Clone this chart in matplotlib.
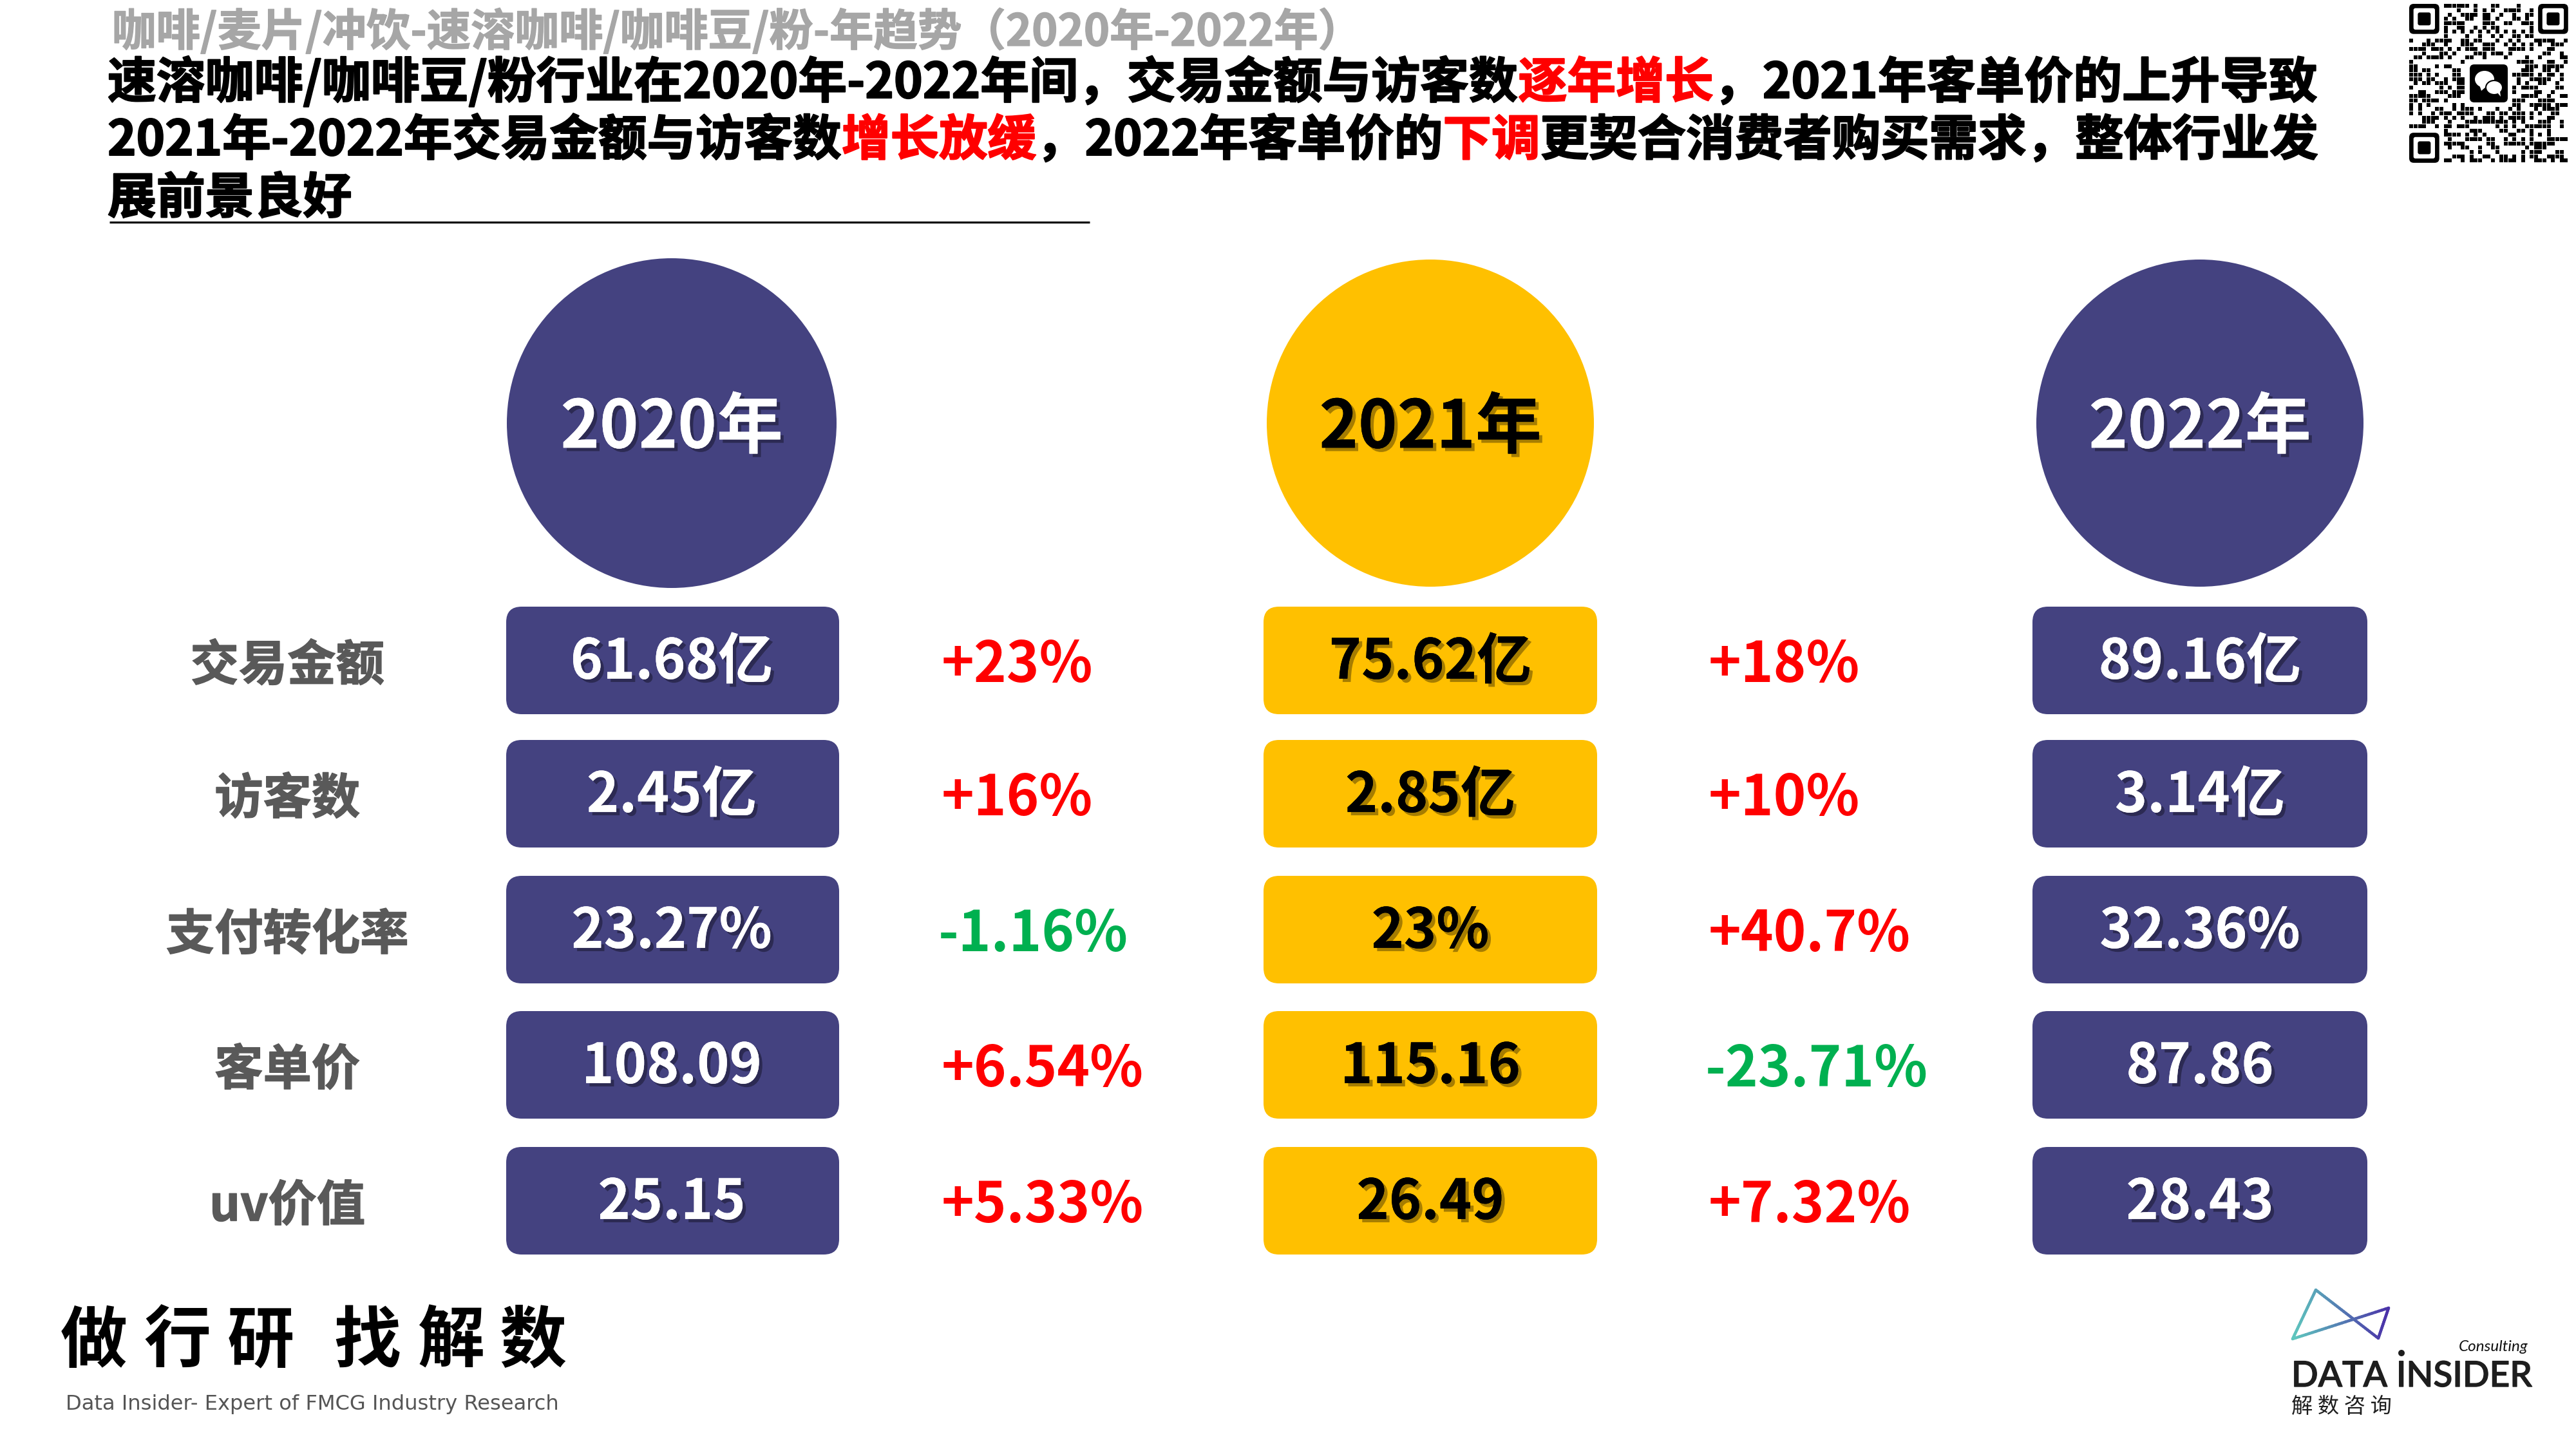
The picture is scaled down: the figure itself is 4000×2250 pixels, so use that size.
import numpy as np
import matplotlib
matplotlib.use("Agg")
import matplotlib.pyplot as plt
import matplotlib.patheffects as pe
from matplotlib.patches import Circle, FancyBboxPatch, Ellipse, Polygon
from matplotlib.collections import LineCollection

plt.rcParams['font.family'] = ['Noto Sans CJK SC', 'DejaVu Sans']

# DATA
years = ["2020年", "2021年", "2022年"]
metrics = ["交易金额", "访客数", "支付转化率", "客单价", "uv价值"]
values_2020 = ["61.68亿", "2.45亿", "23.27%", "108.09", "25.15"]
values_2021 = ["75.62亿", "2.85亿", "23%", "115.16", "26.49"]
values_2022 = ["89.16亿", "3.14亿", "32.36%", "87.86", "28.43"]
change_2021 = ["+23%", "+16%", "-1.16%", "+6.54%", "+5.33%"]
change_2022 = ["+18%", "+10%", "+40.7%", "-23.71%", "+7.32%"]

subtitle = "咖啡/麦片/冲饮-速溶咖啡/咖啡豆/粉-年趋势（2020年-2022年）"
title_line1 = [("速溶咖啡/咖啡豆/粉行业在2020年-2022年间，交易金额与访客数", "k"), ("逐年增长", "r"),
               ("，2021年客单价的上升导致", "k")]
title_line2 = [("2021年-2022年交易金额与访客数", "k"), ("增长放缓", "r"), ("，2022年客单价的", "k"),
               ("下调", "r"), ("更契合消费者购买需求，整体行业发", "k")]
title_line3 = [("展前景良好", "k")]

# qr code modules per row (finder squares and the logo are drawn apart)
qr_rows = [
    [8,9,10,11,12,13,15,19,20,25],
    [11,15,17,19,22,23,24,25,28],
    [9,12,13,14,15,17,18,21,24,27,28],
    [8,10,13,14,17,18,20,24,25,27],
    [8,9,10,11,12,17,18,19,22,23,26,27,28],
    [8,11,12,15,17,19,20,28],
    [8,10,12,14,16,18,20,22,24,26,28],
    [8,13,16,19,21,24,25,27,28],
    [0,4,6,7,8,9,12,13,15,16,20,23,25,29,30,31,32,33,36],
    [3,4,5,8,12,13,14,17,18,19,22,24,26,28,30,33,34,35],
    [0,1,2,3,5,6,7,9,11,13,14,15,17,18,19,23,24,25,26,28,32,33],
    [3,7,8,10,15,16,17,19,20,21,23,31,32,35],
    [1,2,4,5,6,7,9,13,14,17,22,27,30,35,36],
    [0,12,25,26,27,28,32,33,36],
    [0,1,6,8,9,27,28,29,31,32,33,34,35],
    [0,1,3,4,10,11,26,27,28,31,32,34],
    [0,1,2,4,6,10,11,24,25,26,27,28,30,32,33,35],
    [0,1,2,4,5,8,10,11,12,25,28,29,30,31,32,35],
    [1,3,4,6,7,8,11,12,25,27,30,31,34],
    [0,7,9,11,12,24,26,27,28,29,34,35],
    [2,3,6,7,8,10,11,12,24,29,30,33],
    [0,1,2,3,4,9,10,11,26,27,28,29,32,35,36],
    [0,1,3,4,5,6,8,24,25,26,30,31,32,33],
    [0,2,4,10,12,24,25,28,29,30,31,32,34,35,36],
    [0,2,6,7,10,12,13,14,16,20,23,25,29,31,32,33,34],
    [0,2,5,7,8,9,11,12,13,14,18,19,21,22,24,25,26,28,30,33,34],
    [3,4,5,6,8,10,12,15,17,18,19,21,23,24,25,26,28,32,33],
    [3,4,5,9,13,14,15,16,17,18,19,20,21,22,24,26,30,31,32,35],
    [0,1,2,3,6,8,9,11,12,13,20,22,24,27,28,29,30,31,32,35],
    [8,14,15,16,21,22,25,26,28,32],
    [8,9,10,11,13,15,17,23,24,28,30,32],
    [9,13,14,15,16,18,19,22,24,26,28,32,33,34,35,36],
    [8,9,10,11,12,18,19,22,23,24,25,26,28,29,30,31,32,33],
    [9,12,13,16,19,20,27,29,30,31],
    [14,16,20,26,28,29,30,34,35],
    [10,11,12,14,17,18,21,22,24,26,28,29,32,33,34,35],
    [8,9,12,14,15,16,19,21,22,23,24,26,29,30,31,33,35,36],
]

NAVY = "#444280"
GOLD = "#FFC000"
RED = "#FF0000"
GREEN = "#00B050"
GRAY = "#595959"
COLORS = {"k": "black", "r": RED}


def heavy(color, w=0.6):
    # the source font is a faked bold, a thin stroke gets close to it
    return [pe.withStroke(linewidth=w, foreground=color)]


def draw_runs(ax, x, y, runs, size):
    # lays coloured pieces of one line next to each other, data units are pixels
    fig = ax.figure
    renderer = fig.canvas.get_renderer()
    for s, c in runs:
        t = ax.text(x, y, s, color=COLORS[c], fontsize=size, fontweight="bold", ha="left", va="baseline",
                    path_effects=heavy(COLORS[c]))
        x = x + t.get_window_extent(renderer).width


def rounded_box(ax, x0, x1, y0, y1, color, r=24):
    ax.add_patch(FancyBboxPatch((x0 + r, y0 + r), x1 - x0 - 2 * r, y1 - y0 - 2 * r,
                                boxstyle="round,pad=%d,rounding_size=%d" % (r, r),
                                fc=color, ec="none"))


fig = plt.figure(figsize=(16, 9), dpi=250)
ax = fig.add_axes([0, 0, 1, 1])
ax.set_xlim(0, 4000)
ax.set_ylim(2250, 0)
ax.axis("off")

# HEADER
ax.text(174, 71, subtitle, color="#A6A6A6", fontsize=19.7, fontweight="bold", va="baseline",
        path_effects=heavy("#A6A6A6", 0.4))
draw_runs(ax, 167, 152, title_line1, 21.85)
draw_runs(ax, 167, 241, title_line2, 21.75)
draw_runs(ax, 167, 331, title_line3, 21.85)
ax.plot([170, 1692], [345, 345], color="black", lw=0.9, solid_capstyle="butt")

# COLUMNS
col_centers = [1043, 2221, 3416]
col_fills = [NAVY, GOLD, NAVY]
col_text = ["white", "black", "white"]
radii = [256, 254, 254]
col_values = [values_2020, values_2021, values_2022]
box_x = [(786, 1303), (1962, 2480), (3156, 3676)]
row_y = [(942, 1109), (1149, 1316), (1360, 1527), (1570, 1737), (1781, 1948)]
shadow = [pe.withSimplePatchShadow(offset=(1.5, -1.5), shadow_rgbFace="black", alpha=0.35), pe.Normal()]

for i in range(3):
    cx = col_centers[i]
    ax.add_patch(Circle((cx, 657), radii[i], fc=col_fills[i], ec="none"))
    ax.text(cx, 665, years[i], color=col_text[i], fontsize=29.6, fontweight="bold", ha="center",
            va="center", path_effects=shadow)
    for j in range(5):
        y0, y1 = row_y[j]
        rounded_box(ax, box_x[i][0], box_x[i][1], y0, y1, col_fills[i])
        ax.text(cx, (y0 + y1) / 2 + 3, col_values[i][j], color=col_text[i], fontsize=24.6, fontweight="bold",
                ha="center", va="center", path_effects=shadow)

for j in range(5):
    yc = sum(row_y[j]) / 2
    ax.text(446, yc + 9, metrics[j], color=GRAY, fontsize=21.7, fontweight="bold", ha="center", va="center",
            path_effects=heavy(GRAY, 0.4))
    for x, changes in ((1462, change_2021), (2653, change_2022)):
        s = changes[j]
        neg = s[0] == "-"
        ax.text(x - 5 if neg else x, yc + 8, s, color=GREEN if neg else RED, fontsize=24.8, fontweight="bold",
                ha="left", va="center")

# QR CODE
qr_x, qr_y, m = 3741, 6, 6.67
xs, ys = [], []
for r, cols in enumerate(qr_rows):
    for c in cols:
        if 14 <= c < 23 and 14 <= r < 23:
            continue
        xs.append(qr_x + (c + 0.5) * m)
        ys.append(qr_y + (r + 0.5) * m)
ax.scatter(xs, ys, s=(m * 0.86 * 72 / 250) ** 2, marker="s", c="black", linewidths=0)
for fx, fy in ((0, 0), (30, 0), (0, 30)):
    x0, y0 = qr_x + fx * m, qr_y + fy * m
    rounded_box(ax, x0, x0 + 7 * m, y0, y0 + 7 * m, "black", r=7)
    rounded_box(ax, x0 + m, x0 + 6 * m, y0 + m, y0 + 6 * m, "white", r=3)
    rounded_box(ax, x0 + 2 * m, x0 + 5 * m, y0 + 2 * m, y0 + 5 * m, "black", r=3)
rounded_box(ax, 3835, 3894, 100, 159, "black", r=7)
ax.add_patch(Ellipse((3858, 123), 30, 26, fc="white", ec="none"))
ax.add_patch(Polygon([[3850, 132], [3853, 141], [3860, 135]], fc="white", ec="none"))
ax.add_patch(Ellipse((3873, 136), 26, 22, fc="white", ec="black", lw=0.6))
ax.add_patch(Polygon([[3878, 144], [3883, 150], [3882, 142]], fc="white", ec="none"))

# FOOTER LEFT
slogan = ["做", "行", "研", "找", "解", "数"]
slogan_x = [146, 276, 405, 570, 700, 828]
for s, x in zip(slogan, slogan_x):
    ax.text(x, 2084, s, color="black", fontsize=30, fontweight="bold", ha="center", va="center")
ax.text(102, 2180, "Data Insider- Expert of FMCG Industry Research", color="#555555", fontsize=9.25,
        family="DejaVu Sans", va="center")

# FOOTER RIGHT, logo line with a gradient
pts = np.array([[3560, 2079], [3596, 2003], [3693, 2078], [3709, 2031], [3560, 2079]], dtype=float)
segs, seg_colors = [], []
teal, purple = np.array([0x5E, 0xC8, 0xBE]) / 255, np.array([0x4A, 0x2F, 0xA8]) / 255
for a, b in zip(pts[:-1], pts[1:]):
    for t0, t1 in zip(np.linspace(0, 1, 30)[:-1], np.linspace(0, 1, 30)[1:]):
        p0, p1 = a + (b - a) * t0, a + (b - a) * t1
        segs.append([p0, p1])
        f = ((p0[0] + p1[0]) / 2 - 3560) / 150
        seg_colors.append(teal + (purple - teal) * f)
ax.add_collection(LineCollection(segs, colors=seg_colors, linewidths=1.3, capstyle="round"))

logo = ax.text(3558, 2153, "DATA INSIDER", color="#1E1E1E", fontsize=15.8, family="Lato", fontweight="medium",
               va="baseline", path_effects=heavy("#1E1E1E", 0.4))
renderer = fig.canvas.get_renderer()
probe = ax.text(0, 0, "DATA ", fontsize=15.8, family="Lato", fontweight="medium")
probe_w = probe.get_window_extent(renderer).width
probe.remove()
ax.add_patch(Circle((3558 + probe_w + 8, 2101), 5, fc="#1E1E1E", ec="none"))
ax.text(3818, 2098, "Consulting", color="#111111", fontsize=7, family="Lato",
        fontstyle="italic", va="baseline")
ax.text(3558, 2184, "解 数 咨 询", color="#1E1E1E", fontsize=9.6, va="center")

fig.savefig("out.png", dpi=250)
